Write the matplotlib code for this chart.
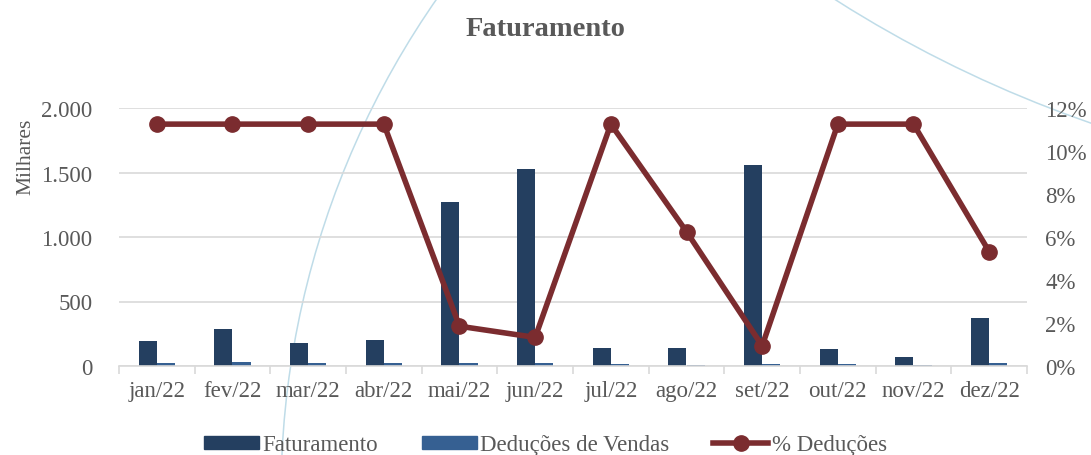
import matplotlib.pyplot as plt
import numpy as np
from matplotlib.patches import Circle, Patch
from matplotlib.ticker import FuncFormatter, FixedLocator
from matplotlib.lines import Line2D

# data (Milhares and %)
meses = ['jan/22', 'fev/22', 'mar/22', 'abr/22', 'mai/22', 'jun/22',
         'jul/22', 'ago/22', 'set/22', 'out/22', 'nov/22', 'dez/22']
faturamento = [192, 285, 178, 201, 1270, 1527, 140, 136, 1557, 129, 70, 372]
deducoes = [22, 32, 20, 22, 24, 21, 16, 8, 15, 15, 8, 20]
pct_deducoes = [11.25, 11.25, 11.25, 11.25, 1.85, 1.33, 11.25, 6.25, 0.94, 11.25, 11.25, 5.32]

txt = '#595959'
c_fat = '#243F60'
c_ded = '#366092'
c_pct = '#7B2C2F'
grid = '#D9D9D9'

plt.rcParams['font.family'] = ['Liberation Serif', 'DejaVu Serif']

fig = plt.figure(figsize=(10.91, 4.56), dpi=100)

# background decoration arcs (pixel coords)
bg = fig.add_axes([0, 0, 1, 1], zorder=0)
bg.set_xlim(0, 1091)
bg.set_ylim(456, 0)
bg.axis('off')
bg.add_patch(Circle((1149, 496), 868, fill=False, ec='#BFDCE8', lw=1.1))
bg.add_patch(Circle((1489, -1027), 1218, fill=False, ec='#BFDCE8', lw=1.1))

ax = fig.add_axes([119 / 1091, 89 / 456, 908 / 1091, 258 / 456], zorder=1)
ax.patch.set_alpha(0)
x = np.arange(len(meses))
w = 0.24
ax.bar(x - w / 2, faturamento, w, color=c_fat, zorder=2)
ax.bar(x + w / 2, deducoes, w, color=c_ded, zorder=2)
ax.set_xlim(-0.5, len(meses) - 0.5)
ax.set_ylim(0, 2000)
ax.set_yticks([0, 500, 1000, 1500, 2000])
ax.yaxis.set_major_formatter(FuncFormatter(lambda v, p: f'{int(v):,}'.replace(',', '.')))
ax.grid(axis='y', color=grid, lw=1.2, zorder=0)
for s in ['top', 'right', 'left']:
    ax.spines[s].set_visible(False)
ax.spines['bottom'].set_color(grid)
ax.spines['bottom'].set_linewidth(1.2)
ax.set_xticks(x)
ax.set_xticklabels(meses)
ax.tick_params(axis='x', length=0, pad=10, labelsize=16.5, labelcolor=txt)
ax.xaxis.set_minor_locator(FixedLocator(np.arange(-0.5, len(meses), 1)))
ax.tick_params(axis='x', which='minor', length=6, color=grid, width=1.2)
ax.tick_params(axis='y', length=0, pad=19, labelsize=16.5, labelcolor=txt)
ax.set_ylabel('Milhares', color=txt, fontsize=15.5)
ax.yaxis.set_label_coords(-0.092, 0.814)

ax2 = ax.twinx()
ax2.plot(x, pct_deducoes, color=c_pct, lw=4, marker='o', ms=11, zorder=3)
ax2.set_ylim(0, 12)
ax2.set_yticks([0, 2, 4, 6, 8, 10, 12])
ax2.yaxis.set_major_formatter(FuncFormatter(lambda v, p: f'{int(v)}%'))
ax2.tick_params(axis='y', length=0, pad=13, labelsize=16.5, labelcolor=txt)
for s in ['top', 'right', 'left', 'bottom']:
    ax2.spines[s].set_visible(False)

fig.text(0.5, 0.935, 'Faturamento', ha='center', va='center', fontsize=20.5,
         fontweight='bold', color=txt)

handles = [Patch(color=c_fat), Patch(color=c_ded),
           Line2D([0], [0], color=c_pct, lw=4, marker='o', ms=11)]
fig.legend(handles, ['Faturamento', 'Deduções de Vendas', '% Deduções'],
           loc='center', bbox_to_anchor=(0.5, 0.022), ncol=3, frameon=False,
           fontsize=16.5, labelcolor=txt, handlelength=2.4, handleheight=0.48,
           handletextpad=0.15, columnspacing=1.9)

fig.savefig('out.png', dpi=100)
